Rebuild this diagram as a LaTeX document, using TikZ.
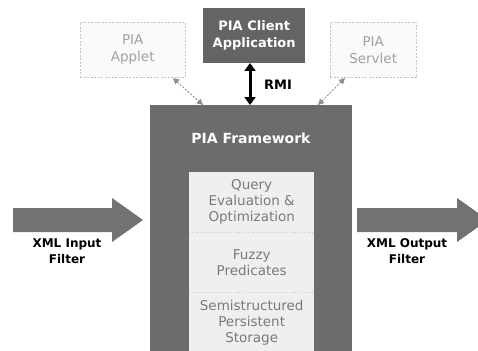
\documentclass[tikz,border=0pt]{standalone}
\usepackage{fontspec}
\setmainfont{DejaVu Sans}
\usetikzlibrary{arrows.meta}
\definecolor{darkbox}{HTML}{646464}
\definecolor{fwgray}{HTML}{6C6C6C}
\definecolor{arrowgray}{HTML}{727272}
\definecolor{innerfill}{HTML}{EFEFEF}
\definecolor{innertext}{HTML}{7A7A7A}
\definecolor{lighttext}{HTML}{A0A0A0}
\definecolor{lightborder}{HTML}{C4C4C4}
\definecolor{lightfill}{HTML}{FAFAFA}
\definecolor{sepgray}{HTML}{C8C8C8}
\begin{document}
\begin{tikzpicture}[x=1pt,y=-1pt,
  txt/.style={font=\fontsize{13.5}{16}\selectfont, align=center, inner sep=0pt},
  clientbox/.style={fill=darkbox, draw=none, text=white, font=\bfseries\fontsize{13}{17}\selectfont, align=center, inner sep=0pt},
  ghostbox/.style={fill=lightfill, draw=lightborder, dashed, dash pattern=on 2pt off 1.5pt, text=lighttext, font=\fontsize{13.5}{17}\selectfont, align=center, inner sep=0pt},
  section/.style={fill=innerfill, draw=none, text=innertext, font=\fontsize{13.5}{16}\selectfont, align=center, inner sep=0pt, minimum width=125, minimum height=60},
  boldlabel/.style={font=\bfseries\fontsize{12}{16}\selectfont, align=center, inner sep=0pt},
  bigarrow/.style={fill=arrowgray, draw=none},
  dasharrow/.style={draw=arrowgray!80, dashed, dash pattern=on 2pt off 1.5pt, line width=0.9pt, {Triangle[length=6pt,width=6pt]}-{Triangle[length=6pt,width=6pt]}},
  rmiarrow/.style={draw=black, line width=3pt, {Triangle[length=8pt,width=11pt]}-{Triangle[length=8pt,width=11pt]}}
]
\useasboundingbox (0,0) rectangle (478,350);
\clip (0,0) rectangle (478,350);
\fill[white] (0,0) rectangle (478,350);

% top boxes
\node[clientbox, minimum width=102, minimum height=55, anchor=north west] (client) at (203,8) {PIA Client\\Application};
\node[ghostbox, minimum width=105, minimum height=55, anchor=north west] (applet) at (80,22) {PIA\\Applet};
\node[ghostbox, minimum width=86, minimum height=55, anchor=north west] (servlet) at (330,22) {PIA\\Servlet};

% framework
\node[fill=fwgray, draw=none, minimum width=202, minimum height=250, anchor=north west, inner sep=0pt] (fw) at (150,105) {};
\node[txt, text=white, font=\bfseries\fontsize{14}{16}\selectfont] (fwlabel) at (251,138) {PIA Framework};

% inner sections
\node[section, anchor=north west] (query) at (189,172) {Query\\Evaluation \&\\Optimization};
\node[section, anchor=north west] (fuzzy) at (189,232) {Fuzzy\\Predicates};
\node[section, anchor=north west, minimum height=62] (storage) at (189,292) {Semistructured\\Persistent\\Storage};
\draw[sepgray, dotted, line width=0.8pt] (query.south west) -- (query.south east);
\draw[sepgray, dotted, line width=0.8pt] (fuzzy.south west) -- (fuzzy.south east);

% connectors
\coordinate (appletEnd) at (173,78);
\coordinate (fwA) at (203,105);
\coordinate (servletEnd) at (345,78);
\coordinate (fwS) at (318,105);
\draw[dasharrow] (appletEnd) -- (fwA);
\draw[dasharrow] (servletEnd) -- (fwS);
\coordinate (clientBot) at (250,63);
\coordinate (fwTop) at (250,105);
\draw[rmiarrow] (clientBot) -- (fwTop);
\node[boldlabel, font=\bfseries\fontsize{13}{16}\selectfont] (rmi) at (278,85) {RMI};

% big arrows
\fill[bigarrow] (13,208) -- (112,208) -- (112,198) -- (143,220) -- (112,242) -- (112,232) -- (13,232) -- cycle;
\fill[bigarrow] (357,208) -- (457,208) -- (457,198) -- (488,220) -- (457,242) -- (457,232) -- (357,232) -- cycle;
\node[boldlabel] (inlabel) at (67,251) {XML Input\\Filter};
\node[boldlabel] (outlabel) at (407,251) {XML Output\\Filter};
\end{tikzpicture}
\end{document}
